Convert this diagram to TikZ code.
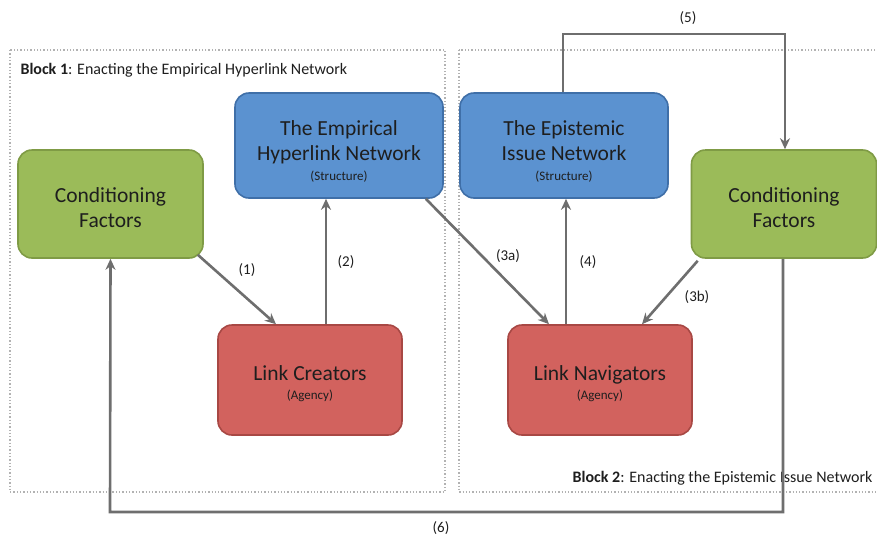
\documentclass[tikz,border=0pt]{standalone}
\usepackage{fontspec}
\setmainfont{Carlito}
\usetikzlibrary{arrows.meta}
\definecolor{gfill}{HTML}{9BBB59}
\definecolor{gdraw}{HTML}{7F9B45}
\definecolor{bfill}{HTML}{5B92D0}
\definecolor{bdraw}{HTML}{3F6FA8}
\definecolor{rfill}{HTML}{D2625E}
\definecolor{rdraw}{HTML}{A84844}
\definecolor{txt}{HTML}{1E1E1E}
\definecolor{arr}{HTML}{6E6E6E}
\newcommand\subtxt[1]{{\fontsize{13}{15}\selectfont #1}}
\tikzset{
  box/.style={rounded corners=14pt, line width=1.6pt, inner sep=0pt},
  gbox/.style={box, fill=gfill, draw=gdraw, minimum width=185pt, minimum height=108pt},
  bbox/.style={box, fill=bfill, draw=bdraw, minimum width=208pt, minimum height=105pt},
  rbox/.style={box, fill=rfill, draw=rdraw, minimum width=184pt, minimum height=110pt},
  boxtext/.style={text=txt, align=center, inner sep=0pt, font=\fontsize{21.5}{25}\selectfont},
  conn/.style={draw=arr, line width=2.6pt, -{Stealth[length=11pt,width=10pt]}},
  lbl/.style={text=txt, font=\fontsize{15}{17}\selectfont},
  blocklbl/.style={text=txt, font=\fontsize{16}{18}\selectfont},
  blockframe/.style={draw=black!30, line width=1.3pt, dotted}
}
\begin{document}
\begin{tikzpicture}[x=1pt,y=-1pt]
\useasboundingbox (0,0) rectangle (877,536);
\fill[white] (0,0) rectangle (877,536);
% block frames
\draw[blockframe] (10,50) rectangle (445,492);
\draw[blockframe] (459,50) rectangle (890,492);
\node[blocklbl, anchor=west] (b1) at (17,70) {\textbf{Block 1}: Enacting the Empirical Hyperlink Network};
\node[blocklbl, anchor=east] (b2) at (876,478) {\textbf{Block 2}: Enacting the Epistemic Issue Network};
% nodes
\node[gbox] (cf1) at (110.5,204) {};
\node[boxtext] (cf1t) at (110.5,208) {Conditioning\\Factors};
\node[gbox] (cf2) at (784,204) {};
\node[boxtext] (cf2t) at (784,208) {Conditioning\\Factors};
\node[bbox] (en) at (339,145.5) {};
\node[boxtext] (ent) at (339,151) {The Empirical\\Hyperlink Network\\[-5pt]\subtxt{(Structure)}};
\node[bbox] (ein) at (564,145.5) {};
\node[boxtext] (eint) at (564,151) {The Epistemic\\Issue Network\\[-5pt]\subtxt{(Structure)}};
\node[rbox] (lc) at (310,380) {};
\node[boxtext] (lct) at (310,384) {Link Creators\\[-6pt]\subtxt{(Agency)}};
\node[rbox] (ln) at (600,380) {};
\node[boxtext] (lnt) at (600,384) {Link Navigators\\[-6pt]\subtxt{(Agency)}};
% connectors
\draw[conn] (cf1.south east) ++(-6,-4) -- ([xshift=-34pt]lc.north);
\draw[conn] ([xshift=16pt]lc.north) -- ([xshift=-13pt]en.south);
\draw[conn] ([xshift=-18pt]en.south east) -- ([xshift=-51pt]ln.north);
\draw[conn] ([xshift=-34pt]ln.north) -- ([xshift=2pt]ein.south);
\draw[conn] ([xshift=7pt,yshift=-2pt]cf2.south west) -- ([xshift=42pt]ln.north);
\draw[conn] ([xshift=-1pt]ein.north) |- (785,34) -- ([xshift=1pt]cf2.north);
\draw[conn] ([xshift=-1pt]cf2.south) |- (110,512) -- (cf1.south);
% labels
\node[lbl] (l1) at (247,270) {(1)};
\node[lbl] (l2) at (346,262) {(2)};
\node[lbl] (l3a) at (508,256) {(3a)};
\node[lbl] (l4) at (588,262) {(4)};
\node[lbl] (l3b) at (697,297) {(3b)};
\node[lbl] (l5) at (688,18) {(5)};
\node[lbl] (l6) at (441,528) {(6)};
\end{tikzpicture}
\end{document}
